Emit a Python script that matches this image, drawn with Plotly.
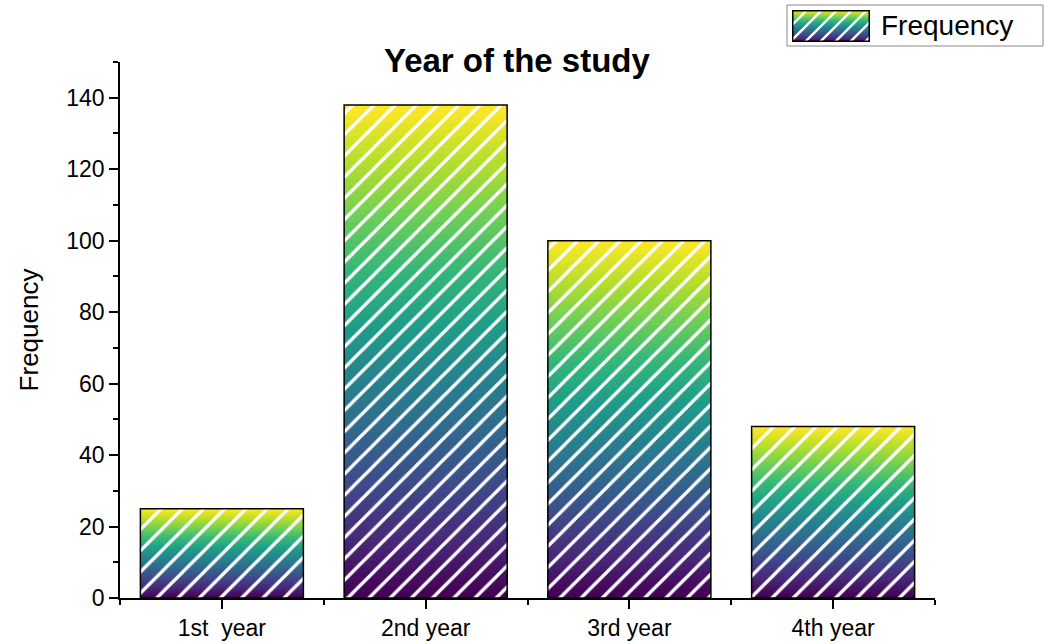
import base64
import plotly.graph_objects as go
from plotly.colors import sample_colorscale

# Study-year frequencies
categories = ["1st\u00a0 year", "2nd year", "3rd year", "4th year"]
frequency = [25, 138, 100, 48]
series_name = "Frequency"

N_LEVELS = 80  # colour levels used for the vertical viridis fill of each bar
positions = list(range(len(categories)))

# Plot-area geometry (pixels) used for the legend placement
W, H = 1047, 644
ML, MR, MT, MB = 120, 112, 62, 46
PW, PH = W - ML - MR, H - MT - MB


def px_x(px):
    return (px - ML) / PW


def px_y(py):
    return (H - MB - py) / PH


fig = go.Figure()

level_colors = sample_colorscale("Viridis", [k / (N_LEVELS - 1) for k in range(N_LEVELS)])
hatch = dict(shape="/", fgcolor="white", fgopacity=1, size=15, solidity=0.22)

# Nested bars from the tallest (yellow top) down to the shortest (purple base),
# each one drawn over the previous so the fill grades smoothly upward.
for k in range(N_LEVELS - 1, -1, -1):
    frac = (k + 1) / N_LEVELS
    fig.add_trace(go.Bar(
        x=positions,
        y=[v * frac for v in frequency],
        width=0.8,
        marker=dict(color=level_colors[k], line=dict(width=0), pattern=hatch, opacity=1),
        showlegend=False,
        hoverinfo="skip",
    ))

# Outline of each full bar
fig.add_trace(go.Bar(
    x=positions,
    y=frequency,
    width=0.8,
    marker=dict(color="rgba(0,0,0,0)", line=dict(color="black", width=1.5)),
    showlegend=False,
    name=series_name,
    hovertemplate="%{text}: %{y}<extra></extra>",
    text=categories,
    textposition="none",
))

# Legend swatch: viridis gradient with white hatching, as an inline SVG
stops = "".join(
    f'<stop offset="{k / (N_LEVELS - 1):.4f}" stop-color="{c}"/>'
    for k, c in enumerate(reversed(level_colors))
)
swatch_svg = (
    '<svg xmlns="http://www.w3.org/2000/svg" width="78" height="32" viewBox="0 0 78 32">'
    '<defs>'
    f'<linearGradient id="g" x1="0" y1="0" x2="0" y2="1">{stops}</linearGradient>'
    '<pattern id="p" width="15" height="15" patternUnits="userSpaceOnUse">'
    '<path d="M-4,19 L19,-4 M-4,4 L4,-4 M11,19 L19,11" stroke="white" stroke-width="2.4"/>'
    '</pattern>'
    '</defs>'
    '<rect x="0" y="0" width="78" height="32" fill="url(#g)"/>'
    '<rect x="0" y="0" width="78" height="32" fill="url(#p)"/>'
    '<rect x="0.75" y="0.75" width="76.5" height="30.5" fill="none" stroke="black" stroke-width="1.5"/>'
    '</svg>'
)
swatch_uri = "data:image/svg+xml;base64," + base64.b64encode(swatch_svg.encode()).decode()

font_family = "Liberation Sans, Arial, sans-serif"

fig.update_layout(
    width=W,
    height=H,
    barmode="overlay",
    plot_bgcolor="white",
    paper_bgcolor="white",
    margin=dict(l=ML, r=MR, t=MT, b=MB, autoexpand=False),
    font=dict(family=font_family, color="black", size=23),
    showlegend=False,
    title=dict(
        text="<b>Year of the study</b>",
        x=0.487, xref="paper", xanchor="center",
        y=1 - 60 / H, yref="container", yanchor="middle",
        font=dict(size=33, family=font_family, color="black"),
    ),
    xaxis=dict(
        range=[-0.5, 3.5],
        tickvals=positions,
        ticktext=categories,
        ticks="outside", ticklen=9, tickwidth=1.5, tickcolor="black",
        minor=dict(tick0=0.5, dtick=1, ticks="outside", ticklen=5, tickwidth=1.5, tickcolor="black"),
        showline=True, linecolor="black", linewidth=1.5,
        showgrid=False, zeroline=False,
        tickfont=dict(size=23),
        automargin=False,
    ),
    yaxis=dict(
        range=[0, 150],
        dtick=20,
        ticks="outside", ticklen=9, tickwidth=1.5, tickcolor="black",
        minor=dict(dtick=10, ticks="outside", ticklen=5, tickwidth=1.5, tickcolor="black"),
        showline=True, linecolor="black", linewidth=1.5,
        showgrid=False, zeroline=False,
        tickfont=dict(size=23),
        title=dict(text="Frequency", font=dict(size=26), standoff=20),
        automargin=False,
    ),
    images=[dict(
        source=swatch_uri,
        xref="paper", yref="paper",
        x=px_x(792), y=px_y(10),
        sizex=78 / PW, sizey=32 / PH,
        xanchor="left", yanchor="top",
        sizing="stretch", layer="above",
    )],
    shapes=[dict(
        type="rect", xref="paper", yref="paper",
        x0=px_x(787), x1=px_x(1043), y0=px_y(46), y1=px_y(5),
        line=dict(color="#888", width=1), fillcolor="rgba(0,0,0,0)",
    )],
    annotations=[dict(
        text=series_name,
        xref="paper", yref="paper",
        x=px_x(879), y=px_y(26),
        xanchor="left", yanchor="middle",
        showarrow=False,
        font=dict(size=28, family=font_family, color="black"),
    )],
)

fig.write_html("out.html")
